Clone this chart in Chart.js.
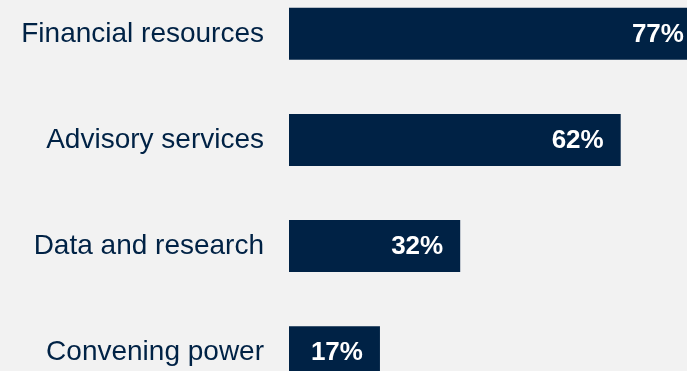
<!DOCTYPE html>
<html>
<head>
<meta charset="utf-8">
<script src="https://cdn.jsdelivr.net/npm/chart.js@4"></script>
<style>
  html, body { margin: 0; padding: 0; background: #f2f2f2; overflow: hidden; }
  #wrap { position: relative; width: 687px; height: 371px; overflow: hidden; }
  /* the tick padding also reserves 42px above and below the chart area */
  #chart { position: absolute; left: 0; top: -61px; }
</style>
</head>
<body>
<div id="wrap">
  <canvas id="chart" width="824" height="508"></canvas>
</div>
<script>
const categories = ["Financial resources", "Advisory services", "Data and research", "Convening power"];
const shares = [77, 62, 32, 17];

const navy = "#002245";
const fontFamily = "Arial, 'Liberation Sans', sans-serif";

// white percentage written inside the end of each bar
const valueLabels = {
  id: "valueLabels",
  afterDatasetsDraw(chart) {
    const ctx = chart.ctx;
    const meta = chart.getDatasetMeta(0);
    ctx.save();
    ctx.fillStyle = "#ffffff";
    ctx.font = "bold 26px " + fontFamily;
    ctx.textAlign = "right";
    ctx.textBaseline = "middle";
    meta.data.forEach((bar, i) => {
      ctx.fillText(shares[i] + "%", bar.x - 17, bar.y + 1);
    });
    ctx.restore();
  }
};

new Chart(document.getElementById("chart"), {
  type: "bar",
  data: {
    labels: categories,
    datasets: [{
      data: shares,
      backgroundColor: navy,
      borderWidth: 0,
      categoryPercentage: 1,
      barPercentage: 52 / 106
    }]
  },
  options: {
    indexAxis: "y",
    responsive: false,
    animation: false,
    layout: { padding: 0 },
    plugins: {
      legend: { display: false },
      tooltip: { enabled: false }
    },
    scales: {
      x: {
        display: false,
        min: 0,
        max: 100
      },
      y: {
        afterFit(scale) { scale.width = 289; },
        grid: { display: false, drawTicks: false },
        border: { display: false },
        ticks: {
          color: navy,
          padding: 25,
          font: { family: fontFamily, size: 28 }
        }
      }
    }
  },
  plugins: [valueLabels]
});
</script>
</body>
</html>
